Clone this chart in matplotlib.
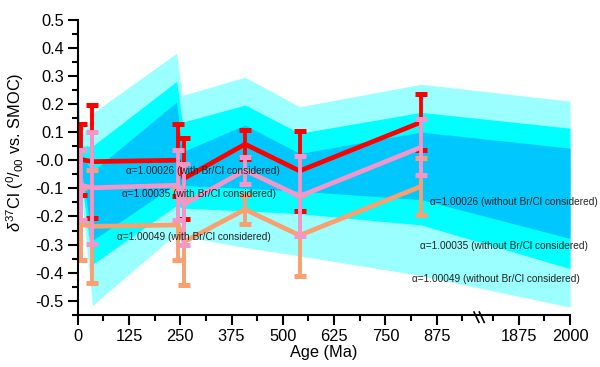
import numpy as np
import matplotlib
matplotlib.use("Agg")
import matplotlib.pyplot as plt
from matplotlib.transforms import blended_transform_factory

plt.rcParams['font.family'] = ['Liberation Sans', 'DejaVu Sans']
plt.rcParams['mathtext.fontset'] = 'custom'
plt.rcParams['mathtext.rm'] = 'Liberation Sans'
plt.rcParams['mathtext.it'] = 'Liberation Sans:italic'
plt.rcParams['mathtext.bf'] = 'Liberation Sans:bold'
plt.rcParams['axes.unicode_minus'] = False

# ---------------- data ----------------
ages = [7, 36, 245, 259, 408, 541, 837]

red_vals = [0.003, -0.005, 0.0, -0.065, 0.057, -0.038, 0.135]
red_err = [0.127, 0.200, 0.128, 0.143, 0.052, 0.141, 0.099]

pink_vals = [-0.089, -0.098, -0.089, -0.157, -0.036, -0.128, 0.046]
pink_err = [0.125, 0.198, 0.125, 0.145, 0.048, 0.142, 0.100]

orange_vals = [-0.228, -0.235, -0.230, -0.290, -0.175, -0.267, -0.093]
orange_err = [0.128, 0.200, 0.126, 0.152, 0.050, 0.143, 0.100]

band_ages = [0, 5, 36, 241, 255, 408, 541, 837, 2000]
outer_upper = [0.33, 0.07, 0.167, 0.38, 0.23, 0.295, 0.19, 0.27, 0.21]
outer_lower = [0.0, -0.07, -0.516, -0.26, -0.27, -0.31, -0.34, -0.41, -0.522]
mid_upper = [0.32, 0.05, 0.05, 0.28, 0.135, 0.196, 0.096, 0.17, 0.114]
mid_lower = [0.05, -0.03, -0.37, -0.16, -0.17, -0.18, -0.19, -0.23, -0.385]
inner_upper = [0.0, 0.03, -0.04, 0.207, 0.03, 0.125, 0.024, 0.10, 0.043]
inner_lower = [0.0, 0.0, -0.285, -0.083, -0.09, -0.10, -0.11, -0.14, -0.278]

xtick_ages = [0, 125, 250, 375, 500, 625, 750, 875, 1875, 2000]
xminor_ages = [62.5, 187.5, 312.5, 437.5, 562.5, 687.5, 812.5, 937.5, 1812.5, 1937.5]

labels_with = ["α=1.00026 (with Br/Cl considered)",
               "α=1.00035 (with Br/Cl considered)",
               "α=1.00049 (with Br/Cl considered)"]
labels_without = ["α=1.00026 (without Br/Cl considered)",
                  "α=1.00035 (without Br/Cl considered)",
                  "α=1.00049 (without Br/Cl considered)"]

BREAK_SHIFT = 800  # axis break: ages above 1500 are shifted left


def to_plot(a):
    a = np.asarray(a, dtype=float)
    return np.where(a > 1500, a - BREAK_SHIFT, a)


# ---------------- figure ----------------
W, H = 600, 367
fig = plt.figure(figsize=(6.0, 3.67), dpi=100)
ax = fig.add_axes([77.7 / W, 1 - 315 / H, (570 - 77.7) / W, (315 - 19.5) / H])

bx = to_plot(band_ages)
ax.fill_between(bx, outer_lower, outer_upper, color='#9CFFFF', lw=0, zorder=1)
ax.fill_between(bx, mid_lower, mid_upper, color='#00FFFF', lw=0, zorder=2)
ax.fill_between(bx, inner_lower, inner_upper, color='#00C8FF', lw=0, zorder=3)

px = to_plot(ages)
series = [
    (orange_vals, orange_err, '#F8A070', 5),
    (red_vals, red_err, '#FF0000', 6),
    (pink_vals, pink_err, '#F596C8', 7),
]
for vals, err, col, z in series:
    ax.plot(px, vals, color=col, lw=3.4, zorder=z, solid_capstyle='butt')
    ebc = ax.errorbar(px, vals, yerr=err, fmt='none', ecolor=col, elinewidth=2.8,
                      capsize=4.2, capthick=3.6, zorder=z)
    for c in ebc[1]:
        c.set_solid_capstyle('round')

ax.set_xlim(0, 2000 - BREAK_SHIFT)
ax.set_ylim(-0.55, 0.5)

ax.set_xticks(to_plot(xtick_ages))
ax.set_xticklabels([str(a) for a in xtick_ages])
ax.set_xticks(to_plot(xminor_ages), minor=True)
ax.set_yticks(np.round(np.arange(-0.5, 0.51, 0.1), 2))
ax.set_yticklabels(['%.1f' % v for v in np.round(np.arange(-0.5, 0.51, 0.1), 2)])
ax.set_yticks(np.round(np.arange(-0.55, 0.5, 0.1), 3), minor=True)

for s in ['top', 'right']:
    ax.spines[s].set_visible(False)
for s in ['left', 'bottom']:
    ax.spines[s].set_linewidth(1.5)
    ax.spines[s].set_zorder(10)

ax.tick_params(which='major', direction='out', length=7, width=1.5, labelsize=11.8, pad=3)
ax.tick_params(which='minor', direction='out', length=4, width=1.5)

ax.set_xlabel('Age (Ma)', fontsize=11.8, labelpad=1)
ax.set_ylabel(r'$\delta^{37}$Cl ($^{0}/_{00}$ vs. SMOC)', fontsize=11.8)
ax.yaxis.set_label_coords(-0.105, 0.55)

# axis break marks
tr = blended_transform_factory(ax.transData, ax.transAxes)
for x0 in [966, 979]:
    ax.plot([x0, x0 + 12], [0.01, -0.025], color='black', lw=1.2, transform=tr,
            clip_on=False, zorder=11)

# annotations (pixel positions)
txt_kw = dict(fontsize=7.3, color='#222222', va='center', ha='left', transform=fig.transFigure, zorder=20)
for lab, (xp, yp) in zip(labels_with, [(126, 171), (122, 194), (117, 237)]):
    fig.text(xp / W, 1 - yp / H, lab, **txt_kw)
for lab, (xp, yp) in zip(labels_without, [(430, 202), (420, 246), (412, 279)]):
    fig.text(xp / W, 1 - yp / H, lab, **txt_kw)

fig.savefig('out.png', dpi=100)
